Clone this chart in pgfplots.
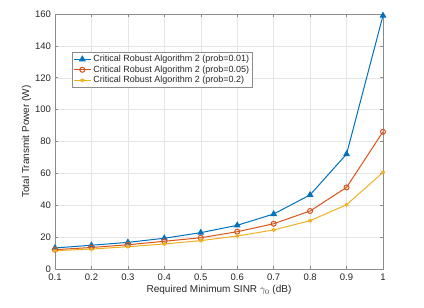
\documentclass[border=0pt]{standalone}
\usepackage{pgfplots}
\pgfplotsset{compat=1.18}
\usepackage{fontspec}
\setmainfont{Liberation Sans}
\definecolor{mblue}{rgb}{0,0.447,0.741}
\definecolor{morange}{rgb}{0.85,0.325,0.098}
\definecolor{myellow}{rgb}{0.929,0.694,0.125}
\begin{document}
\begin{tikzpicture}[x=1pt,y=1pt]
\begin{axis}[
  at={(0,0)}, anchor=south west,
  scale only axis, width=328pt, height=255pt,
  xmin=0.1, xmax=1, ymin=0, ymax=160,
  xtick={0.1,0.2,...,1.0},
  xticklabels={0.1,0.2,0.3,0.4,0.5,0.6,0.7,0.8,0.9,1},
  ytick={0,20,...,160},
  grid=major,
  major grid style={gray!20, line width=0.4pt},
  axis line style={gray!110!black, line width=0.5pt},
  tick style={gray!110!black, line width=0.5pt},
  tick align=inside,
  major tick length=3pt,
  ticklabel style={font=\fontsize{9.5}{11}\selectfont, text=black!85},
  xticklabel style={yshift=-1.5pt},
  yticklabel style={xshift=-0.5pt},
  /pgf/number format/assume math mode=true,
  xlabel={Required Minimum SINR $\gamma_0$ (dB)},
  ylabel={Total Transmit Power (W)},
  label style={font=\fontsize{10}{12}\selectfont, text=black!85},
  xlabel style={yshift=2pt},
  ylabel style={yshift=-3pt},
  legend style={at={(0.052,0.851)}, anchor=north west, font=\fontsize{9}{10.5}\selectfont,
    draw=gray!110!black, line width=0.5pt, inner sep=1pt, row sep=-1.5pt, text=black!85},
  legend cell align=left,
]
\addplot[mblue, line width=1pt, mark=triangle*, mark size=3pt, mark options={solid}] coordinates {
(0.1,13.2) (0.2,14.9) (0.3,16.7) (0.4,19.3) (0.5,22.8) (0.6,27.4) (0.7,34.5) (0.8,46.5) (0.9,72.1) (1.0,159)};
\addlegendentry{Critical Robust Algorithm 2 (prob=0.01)}
\addplot[morange, line width=1pt, mark=o, mark size=2.5pt, mark options={solid}] coordinates {
(0.1,12.1) (0.2,13.5) (0.3,15.2) (0.4,17.4) (0.5,19.6) (0.6,23.4) (0.7,28.4) (0.8,36.4) (0.9,51.2) (1.0,86.1)};
\addlegendentry{Critical Robust Algorithm 2 (prob=0.05)}
\addplot[myellow, line width=1pt, mark=asterisk, mark size=2pt, mark options={solid}] coordinates {
(0.1,11.5) (0.2,12.5) (0.3,14.0) (0.4,15.7) (0.5,17.8) (0.6,20.7) (0.7,24.5) (0.8,30.3) (0.9,40.3) (1.0,60.6)};
\addlegendentry{Critical Robust Algorithm 2 (prob=0.2)}
\end{axis}
\path[use as bounding box] (-55pt,-39pt) rectangle (369pt,269pt);
\end{tikzpicture}
\end{document}
